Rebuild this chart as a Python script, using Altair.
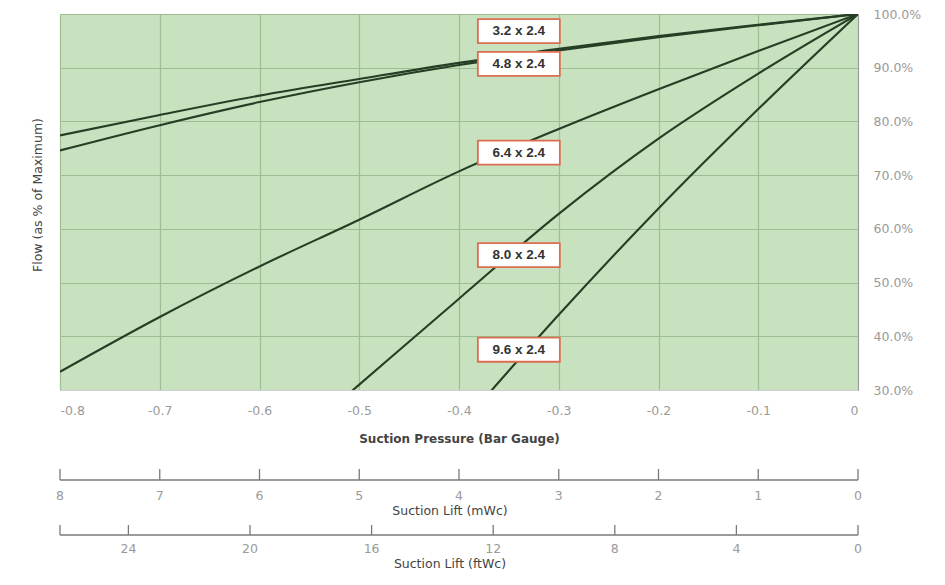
import altair as alt
import pandas as pd

# ---- data ----
pressure = [-0.8, -0.7, -0.6, -0.5, -0.4, -0.3, -0.2, -0.1, 0.0]
series_names = ["3.2 x 2.4", "4.8 x 2.4", "6.4 x 2.4", "8.0 x 2.4", "9.6 x 2.4"]
flow_32 = [77.4, 81.2, 84.8, 87.9, 90.9, 93.5, 95.9, 98.0, 100.0]
flow_48 = [74.6, 79.3, 83.6, 87.3, 90.5, 93.2, 95.7, 97.9, 100.0]
flow_64 = [33.4, 43.6, 53.0, 61.7, 70.7, 78.6, 86.0, 93.1, 100.0]
flow_80 = [None, None, 15.0, 31.0, 47.0, 62.8, 76.8, 88.9, 100.0]
flow_96 = [None, None, None, None, 23.0, 44.0, 63.8, 82.3, 100.0]

label_x = [-0.34, -0.34, -0.34, -0.34, -0.34]
label_y = [96.8, 90.7, 74.2, 55.1, 37.5]

flow_ticks = [30, 40, 50, 60, 70, 80, 90, 100]
mwc_ticks = [8, 7, 6, 5, 4, 3, 2, 1, 0]
ftwc_ticks = [24, 20, 16, 12, 8, 4, 0]
ftwc_max = 26.25  # 8 m of water column expressed in feet

x_title = "Suction Pressure (Bar Gauge)"
y_title = "Flow (as % of Maximum)"
mwc_title = "Suction Lift (mWc)"
ftwc_title = "Suction Lift (ftWc)"

# ---- tables ----
rows = []
for name, vals in zip(series_names, [flow_32, flow_48, flow_64, flow_80, flow_96]):
    for p, v in zip(pressure, vals):
        if v is not None:
            rows.append({"series": name, "pressure": p, "flow": v})
lines_df = pd.DataFrame(rows)
labels_df = pd.DataFrame({"series": series_names, "pressure": label_x, "flow": label_y})

FONT = "DejaVu Sans"
W, H = 798, 376
LINE_COL = "#263d26"
AXIS_GRAY = "#7a7a7a"
LABEL_GRAY = "#9a9a9a"
TITLE_COL = "#444444"

xscale = alt.Scale(domain=[-0.8, 0.0], nice=False, zero=False)
yscale = alt.Scale(domain=[30, 100], nice=False, zero=False)

x_enc = alt.X(
    "pressure:Q",
    scale=xscale,
    axis=alt.Axis(
        values=pressure, grid=True, ticks=False, tickSize=0, domain=True,
        domainColor="#cfcfcf", gridColor="#9dbd92", gridWidth=1.2,
        labelExpr="datum.value == 0 ? '0' : '-' + format(abs(datum.value), '.1f')",
        labelColor=LABEL_GRAY, labelFont=FONT, labelFontSize=12.5, labelPadding=14,
        title=x_title, titleFont=FONT, titleFontSize=12, titleFontWeight="bold",
        titleColor=TITLE_COL, titlePadding=17,
    ),
)
y_enc = alt.Y(
    "flow:Q",
    scale=yscale,
    axis=alt.Axis(
        orient="right", values=flow_ticks, grid=True, ticks=False, tickSize=0,
        domain=True, domainColor="#9a9a9a", gridColor="#9dbd92", gridWidth=1.2,
        labelExpr="format(datum.value, '.1f') + '%'",
        labelColor=LABEL_GRAY, labelFont=FONT, labelFontSize=12.5, labelPadding=15,
        title=None,
    ),
)

lines = alt.Chart(lines_df).mark_line(
    clip=True, strokeWidth=2.1, color=LINE_COL, interpolate="monotone"
).encode(x=x_enc, y=y_enc, detail="series:N")

box_path = "M-1,-0.293L1,-0.293L1,0.293L-1,0.293Z"
boxes = alt.Chart(labels_df).mark_point(
    shape=box_path, size=6724, filled=True, fill="white", fillOpacity=1,
    stroke="#dc6e50", strokeWidth=1.8, opacity=1,
).encode(x=x_enc, y=y_enc)
box_text = alt.Chart(labels_df).mark_text(
    font="Liberation Sans", fontSize=13.5, fontWeight="bold", color="#333333"
).encode(x=x_enc, y=y_enc, text="series:N")
main = alt.layer(lines, boxes, box_text)

# left title of the flow axis
ytitle = alt.Chart(pd.DataFrame({"t": [y_title]})).mark_text(
    angle=270, font=FONT, fontSize=12.5, color=TITLE_COL
).encode(text="t:N", x=alt.value(-22), y=alt.value(181))

# ---- secondary scale: mWc ----
mwc_scale = alt.Scale(domain=[8, 0], nice=False, zero=False)
mwc_df = pd.DataFrame({"v": mwc_ticks})
mwc_tick = alt.Chart(mwc_df).mark_rule(color=AXIS_GRAY, strokeWidth=1.3).encode(
    x=alt.X("v:Q", scale=mwc_scale, axis=None), y=alt.value(455), y2=alt.value(466)
)
mwc_dom = alt.Chart(pd.DataFrame({"v": [mwc_ticks[0]], "b": [mwc_ticks[-1]]})).mark_rule(
    color=AXIS_GRAY, strokeWidth=1.3
).encode(x=alt.X("v:Q", scale=mwc_scale, axis=None), x2="b:Q", y=alt.value(466))
mwc_lab = alt.Chart(mwc_df).mark_text(font=FONT, fontSize=12.5, color=LABEL_GRAY).encode(
    x=alt.X("v:Q", scale=mwc_scale, axis=None), y=alt.value(482), text="v:Q"
)
mwc_layer = alt.layer(mwc_tick, mwc_dom, mwc_lab)
mwc_t = alt.Chart(pd.DataFrame({"t": [mwc_title]})).mark_text(
    font=FONT, fontSize=12.5, color=TITLE_COL
).encode(text="t:N", x=alt.value(390), y=alt.value(497))

# ---- secondary scale: ftWc ----
ft_scale = alt.Scale(domain=[ftwc_max, 0], nice=False, zero=False)
ft_df = pd.DataFrame({"v": ftwc_ticks})
ft_tick = alt.Chart(ft_df).mark_rule(color=AXIS_GRAY, strokeWidth=1.3).encode(
    x=alt.X("v:Q", scale=ft_scale, axis=None), y=alt.value(511), y2=alt.value(521)
)
ft_end = alt.Chart(pd.DataFrame({"v": [ftwc_max]})).mark_rule(color=AXIS_GRAY, strokeWidth=1.3).encode(
    x=alt.X("v:Q", scale=ft_scale, axis=None), y=alt.value(511), y2=alt.value(521)
)
ft_dom = alt.Chart(pd.DataFrame({"v": [ftwc_max], "b": [0]})).mark_rule(
    color=AXIS_GRAY, strokeWidth=1.3
).encode(x=alt.X("v:Q", scale=ft_scale, axis=None), x2="b:Q", y=alt.value(521))
ft_lab = alt.Chart(ft_df).mark_text(font=FONT, fontSize=12.5, color=LABEL_GRAY).encode(
    x=alt.X("v:Q", scale=ft_scale, axis=None), y=alt.value(535), text="v:Q"
)
ft_layer = alt.layer(ft_tick, ft_end, ft_dom, ft_lab)
ft_t = alt.Chart(pd.DataFrame({"t": [ftwc_title]})).mark_text(
    font=FONT, fontSize=12.5, color=TITLE_COL
).encode(text="t:N", x=alt.value(390), y=alt.value(550))

chart = (
    alt.layer(main, mwc_layer, ft_layer, ytitle, mwc_t, ft_t)
    .resolve_scale(x="independent")
    .properties(
        width=W, height=H,
        autosize=alt.AutoSizeParams(type="none"),
        padding={"left": 52, "top": 6, "right": 78, "bottom": 183},
        background="white",
    )
    .configure_view(fill="#c8e1be", stroke="#cfcfcf", strokeWidth=1)
)

chart.save("out.html", embed_options={"renderer": "svg", "actions": False})
